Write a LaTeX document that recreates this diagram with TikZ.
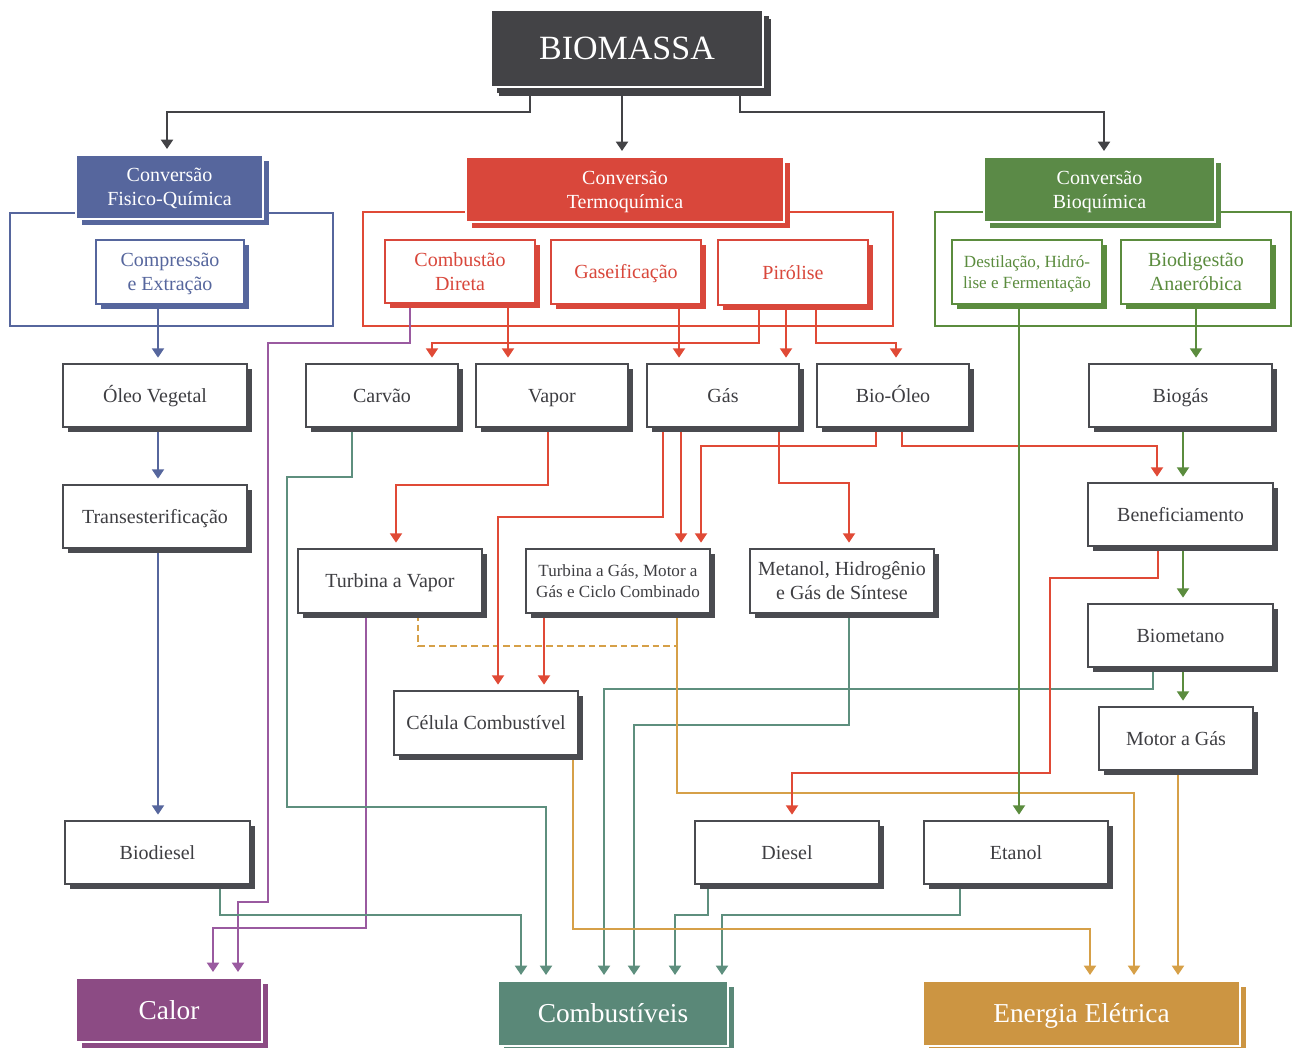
\documentclass[tikz,border=0pt]{standalone}
\usepackage{fontspec}
\setmainfont{Liberation Serif}
\usetikzlibrary{shadows,arrows.meta,backgrounds}
\definecolor{dk}{HTML}{434346}
\definecolor{bgray}{HTML}{4A4B50}
\definecolor{txt}{HTML}{3E3E42}
\definecolor{cblue}{HTML}{56669D}
\definecolor{cred}{HTML}{D9473B}
\definecolor{lred}{HTML}{E04A36}
\definecolor{cgreen}{HTML}{5B8A47}
\definecolor{lgreen}{HTML}{5B8C3E}
\definecolor{cpurp}{HTML}{8C4B84}
\definecolor{lpurp}{HTML}{9A5AA0}
\definecolor{cteal}{HTML}{5A8878}
\definecolor{lteal}{HTML}{5E8F7E}
\definecolor{cgold}{HTML}{CC9542}
\definecolor{lgold}{HTML}{D6A048}
\tikzset{
 base/.style={inner sep=0pt, align=center, text=txt, text depth=0pt, font=\fontsize{15}{18}\selectfont},
 one/.style={text height=10pt},
 wbox/.style={base, draw=bgray, line width=1.5pt, fill=white,
   copy shadow={shadow xshift=3.75pt, shadow yshift=-3.75pt, draw=none, fill=bgray}},
 sbox/.style={base, draw=#1, line width=1.5pt, fill=white, text=#1,
   copy shadow={shadow xshift=3.75pt, shadow yshift=-3.75pt, draw=none, fill=#1}},
 hbox/.style={base, fill=#1, draw=white, line width=1pt, text=white,
   copy shadow={shadow xshift=4.5pt, shadow yshift=-4.5pt, draw=none, fill=#1}},
 sz/.style 2 args={minimum width=#1*0.75pt, minimum height=#2*0.75pt},
 small/.style={font=\fontsize{12.8}{15.5}\selectfont},
 big/.style={font=\fontsize{20.5}{24}\selectfont, text height=14pt},
 ln/.style={line width=1.5pt, draw=#1, -{Triangle[width=9pt,length=7pt]}, shorten >=4pt},
 pl/.style={line width=1.5pt, draw=#1},
 frame/.style={line width=1.5pt, draw=#1},
}
\begin{document}
\begin{tikzpicture}[x=0.75pt,y=-0.75pt]
\useasboundingbox (0,0) rectangle (1293,1048);
% top
\node[hbox=dk, sz={272}{77}, font=\fontsize{25.5}{30}\selectfont, text height=17pt,
  copy shadow={shadow xshift=6pt, shadow yshift=-6.5pt, draw=none, fill=dk}] (bio) at (627,48.5) {BIOMASSA};
\node[hbox=cblue, sz={187}{64}] (cfq) at (169.5,187) {Conversão\\Fisico-Química};
\node[hbox=cred, sz={318}{65}] (ctq) at (625,189.5) {Conversão\\Termoquímica};
\node[hbox=cgreen, sz={231}{65}] (cbq) at (1099.5,189.5) {Conversão\\Bioquímica};
% sub processes
\node[sbox=cblue, sz={148}{64}] (comp) at (170,272) {Compressão\\e Extração};
\node[sbox=cred, sz={150}{63}] (comb) at (460,271.5) {Combustão\\Direta};
\node[sbox=cred, sz={150}{64}, one] (gasf) at (626,272) {Gaseificação};
\node[sbox=cred, sz={150}{65}, one] (pir) at (793,272.5) {Pirólise};
\node[sbox=lgreen, sz={150}{64}, small] (dest) at (1027,272) {Destilação, Hidró-\\lise e Fermentação};
\node[sbox=lgreen, sz={150}{64}] (biod) at (1196,272) {Biodigestão\\Anaeróbica};
% row 2
\node[wbox, one, sz={184}{63}] (oleo) at (155,395.5) {Óleo Vegetal};
\node[wbox, one, sz={152}{63}] (carv) at (382,395.5) {Carvão};
\node[wbox, one, sz={152}{63}] (vapor) at (552,395.5) {Vapor};
\node[wbox, one, sz={152}{63}] (gas) at (723,395.5) {Gás};
\node[wbox, one, sz={152}{63}] (bioo) at (893,395.5) {Bio-Óleo};
\node[wbox, one, sz={183}{63}] (biogas) at (1180.5,395.5) {Biogás};
% row 3
\node[wbox, one, sz={184}{63}] (trans) at (155,516.5) {Transesterificação};
\node[wbox, one, sz={185}{63}] (benef) at (1180.5,514.5) {Beneficiamento};
\node[wbox, one, sz={184}{64}] (tv) at (390,581) {Turbina a Vapor};
\node[wbox, sz={184}{64}, small] (tg) at (618,581) {Turbina a Gás, Motor a\\Gás e Ciclo Combinado};
\node[wbox, sz={184}{64}] (met) at (842,581) {Metanol, Hidrogênio\\e Gás de Síntese};
\node[wbox, one, sz={185}{63}] (biomet) at (1180.5,635.5) {Biometano};
\node[wbox, one, sz={184}{64}] (cel) at (486,723) {Célula Combustível};
\node[wbox, one, sz={154}{63}] (motor) at (1176,738.5) {Motor a Gás};
\node[wbox, one, sz={185}{63}] (biodsl) at (157.5,852.5) {Biodiesel};
\node[wbox, one, sz={184}{63}] (diesel) at (787,852.5) {Diesel};
\node[wbox, one, sz={184}{63}] (etanol) at (1016,852.5) {Etanol};
% outputs
\node[hbox=cpurp, sz={186}{64}, big] (calor) at (169,1010) {Calor};
\node[hbox=cteal, sz={230}{65}, big] (combs) at (613,1013.5) {Combustíveis};
\node[hbox=cgold, sz={317}{65}, big] (energ) at (1081.5,1013.5) {Energia Elétrica};

\begin{scope}[on background layer]
% frames
\draw[frame=cblue] (10,213) rectangle (333,326);
\draw[frame=lred] (363,212) rectangle (893,326);
\draw[frame=lgreen] (935,212) rectangle (1291,326);
% biomassa
\draw[ln=dk] (bio.south -| 530,0) |- (167,112) -- (cfq.north -| 167,0);
\draw[ln=dk] (bio.south -| 622,0) -- (ctq.north -| 622,0);
\draw[ln=dk] (bio.south -| 740,0) |- (1104,112) -- (cbq.north -| 1104,0);
% blue
\draw[ln=cblue] (comp.south -| 158,0) -- (oleo.north -| 158,0);
\draw[ln=cblue] (oleo.south -| 158,0) -- (trans.north -| 158,0);
\draw[ln=cblue] (trans.south -| 158,0) -- (biodsl.north -| 158,0);
% purple
\draw[ln=lpurp] (comb.south -| 410,0) |- (268,343) |- (238,902) -- (calor.north -| 238,0);
\draw[ln=lpurp] (tv.south -| 366,0) |- (213,928) -- (calor.north -| 213,0);
% teal
\draw[ln=lteal] (biodsl.south -| 220,0) |- (521,915) -- (combs.north -| 521,0);
\draw[ln=lteal] (carv.south -| 352,0) |- (287,477) |- (546,807) -- (combs.north -| 546,0);
\draw[ln=lteal] (biomet.south -| 1153,0) |- (604,689) -- (combs.north -| 604,0);
\draw[ln=lteal] (met.south -| 849,0) |- (634,725) -- (combs.north -| 634,0);
\draw[ln=lteal] (diesel.south -| 708,0) |- (675,915) -- (combs.north -| 675,0);
\draw[ln=lteal] (etanol.south -| 960,0) |- (722,915) -- (combs.north -| 722,0);
% gold
\coordinate (j) at (677,646);
\draw[pl=lgold, dashed, dash pattern=on 5pt off 3pt] (tv.south -| 418,0) |- (j);
\draw[ln=lgold] (tg.south -| 677,0) |- (1134,793) -- (energ.north -| 1134,0);
\draw[ln=lgold] (cel.south -| 573,0) |- (1090,929) -- (energ.north -| 1090,0);
\draw[ln=lgold] (motor.south -| 1178,0) -- (energ.north -| 1178,0);
% red
\draw[ln=lred] (comb.south -| 508,0) -- (vapor.north -| 508,0);
\draw[ln=lred] (gasf.south -| 679,0) -- (gas.north -| 679,0);
\draw[ln=lred] (pir.south -| 759,0) |- (432,343) -- (carv.north -| 432,0);
\draw[ln=lred] (pir.south -| 786,0) -- (gas.north -| 786,0);
\draw[ln=lred] (pir.south -| 816,0) |- (896,343) -- (bioo.north -| 896,0);
\draw[ln=lred] (vapor.south -| 548,0) |- (396,485) -- (tv.north -| 396,0);
\draw[ln=lred] (gas.south -| 663,0) |- (498,517) -- (cel.north -| 498,0);
\draw[ln=lred] (gas.south -| 681,0) -- (tg.north -| 681,0);
\draw[ln=lred] (gas.south -| 779,0) |- (849,483) -- (met.north -| 849,0);
\draw[ln=lred] (bioo.south -| 876,0) |- (701,446) -- (tg.north -| 701,0);
\draw[ln=lred] (bioo.south -| 902,0) |- (1157,446) -- (benef.north -| 1157,0);
\draw[ln=lred] (tg.south -| 544,0) -- (cel.north -| 544,0);
\draw[ln=lred] (benef.south -| 1158,0) |- (1050,578) |- (792,773) -- (diesel.north -| 792,0);
% green
\draw[ln=lgreen] (biod.south -| 1196,0) -- (biogas.north -| 1196,0);
\draw[ln=lgreen] (dest.south -| 1019,0) -- (etanol.north -| 1019,0);
\draw[ln=lgreen] (biogas.south -| 1183,0) -- (benef.north -| 1183,0);
\draw[ln=lgreen] (benef.south -| 1183,0) -- (biomet.north -| 1183,0);
\draw[ln=lgreen] (biomet.south -| 1183,0) -- (motor.north -| 1183,0);
\end{scope}
\end{tikzpicture}
\end{document}
